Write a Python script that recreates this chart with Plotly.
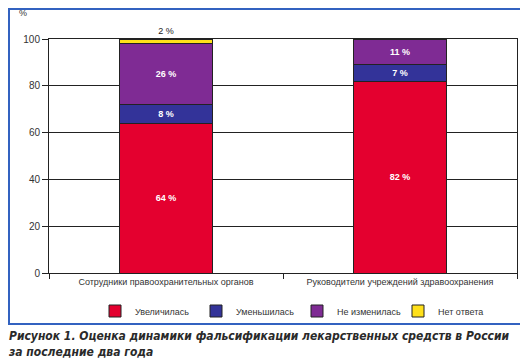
import plotly.graph_objects as go

categories = ["Сотрудники правоохранительных органов", "Руководители учреждений здравоохранения"]
series_names = ["Увеличилась", "Уменьшилась", "Не изменилась", "Нет ответа"]
increased = [64, 82]
decreased = [8, 7]
unchanged = [26, 11]
no_answer = [2, None]
colors = ["#e4002f", "#333399", "#7f2b94", "#ffe01a"]
y_ticks = [0, 20, 40, 60, 80, 100]

L, T, PW, PH = 41, 31, 468, 234

fig = go.Figure()
series = [increased, decreased, unchanged, no_answer]
for i, (name, vals) in enumerate(zip(series_names, series)):
    texts = [f"{v} %" if v is not None else "" for v in vals]
    if i == 3:
        tp = "outside"
        tf = dict(family="Liberation Sans", size=9, color="#222222")
    else:
        tp = "inside"
        tf = dict(family="Liberation Sans", size=9, color="#ffffff", weight="bold")
    fig.add_trace(go.Bar(
        x=categories, y=vals, name=name, text=texts, textposition=tp,
        insidetextanchor="middle", textfont=tf, outsidetextfont=tf, insidetextfont=tf,
        marker=dict(color=colors[i], line=dict(color="#222222", width=1)),
        width=0.4, cliponaxis=False, hoverinfo="skip",
    ))

fig.update_layout(
    width=528, height=359,
    margin=dict(l=L, r=528 - L - PW, t=T, b=359 - T - PH, autoexpand=False),
    barmode="stack",
    paper_bgcolor="white", plot_bgcolor="white",
    font=dict(family="Liberation Sans", size=9, color="#333333"),
    showlegend=True,
    legend=dict(orientation="h", x=(87 - L) / PW, xanchor="left", y=-38 / PH, yanchor="middle",
                font=dict(size=9, color="#333333"), entrywidth=56, entrywidthmode="pixels",
                traceorder="normal", itemclick=False, bgcolor="rgba(0,0,0,0)"),
)
fig.update_yaxes(range=[0, 100], tickvals=y_ticks, ticks="outside", ticklen=6, tickcolor="#222222",
                 showgrid=True, gridcolor="#222222", gridwidth=1, showline=True, linecolor="#222222",
                 linewidth=1, mirror=True, tickfont=dict(size=10, color="#333333"), zeroline=False,
                 fixedrange=True, automargin=False)
fig.update_xaxes(tickson="boundaries", ticks="outside", ticklen=5, tickcolor="#222222",
                 showline=True, linecolor="#222222", linewidth=1, mirror=True, showgrid=False,
                 tickfont=dict(size=9, color="#333333"), fixedrange=True, automargin=False)

# outer blue frame
fig.add_shape(type="rect", xref="paper", yref="paper",
              x0=(1 - L) / PW, x1=(517 - L) / PW, y0=(T + PH - 316) / PH, y1=(T + PH - 1) / PH,
              line=dict(color="#3262c0", width=2), fillcolor="rgba(0,0,0,0)", layer="above")

fig.add_annotation(text="%", xref="paper", yref="paper", x=(15 - L) / PW, y=(T + PH - 5) / PH,
                   showarrow=False, font=dict(size=9, color="#333333"), xanchor="center", yanchor="middle")

fig.add_annotation(
    text="Рисунок 1. Оценка динамики фальсификации лекарственных средств в России<br>за последние два года",
    xref="paper", yref="paper", x=(-2 - L) / PW, y=(T + PH - 319) / PH, xanchor="left", yanchor="top",
    align="left", showarrow=False,
    font=dict(family="DejaVu Sans Condensed", size=12, color="#2a2a2a", weight="bold", style="italic"),
)

fig.write_html("out.html")
